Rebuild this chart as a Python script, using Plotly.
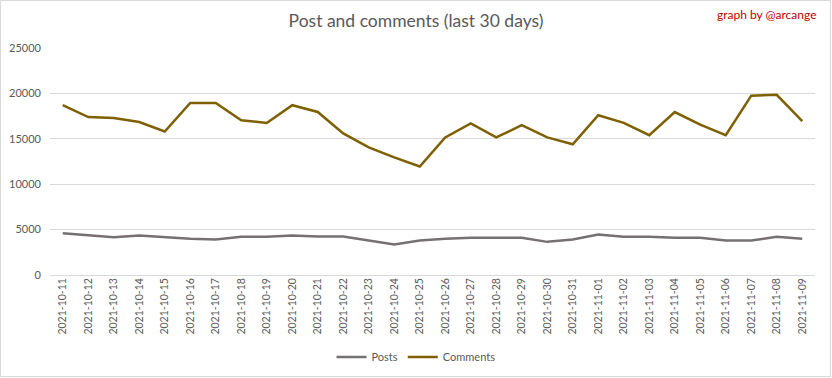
import plotly.graph_objects as go

dates = ["2021-10-11", "2021-10-12", "2021-10-13", "2021-10-14", "2021-10-15", "2021-10-16",
         "2021-10-17", "2021-10-18", "2021-10-19", "2021-10-20", "2021-10-21", "2021-10-22",
         "2021-10-23", "2021-10-24", "2021-10-25", "2021-10-26", "2021-10-27", "2021-10-28",
         "2021-10-29", "2021-10-30", "2021-10-31", "2021-11-01", "2021-11-02", "2021-11-03",
         "2021-11-04", "2021-11-05", "2021-11-06", "2021-11-07", "2021-11-08", "2021-11-09"]

posts = [4600, 4350, 4150, 4350, 4150, 4000, 3900, 4200, 4200, 4350, 4250, 4250,
         3800, 3350, 3800, 4000, 4100, 4100, 4100, 3650, 3900, 4450, 4200, 4200,
         4100, 4100, 3800, 3800, 4200, 4000]

comments = [18700, 17400, 17300, 16850, 15800, 18950, 18950, 17050, 16750, 18700, 17950, 15600,
            14050, 12950, 11950, 15150, 16700, 15150, 16500, 15150, 14400, 17600, 16750, 15400,
            17950, 16550, 15400, 19750, 19850, 16950]

y_ticks = [0, 5000, 10000, 15000, 20000, 25000]

W, H = 832, 378
ML, MR, MT, MB = 50, 17, 48, 103
PW, PH = W - ML - MR, H - MT - MB

TEXT = "#595959"
FONT = "Lato"

fig = go.Figure()
fig.add_trace(go.Scatter(x=dates, y=posts, mode="lines", name="Posts",
                         line=dict(color="#767171", width=2.5)))
fig.add_trace(go.Scatter(x=dates, y=comments, mode="lines", name="Comments",
                         line=dict(color="#7F6000", width=2.5)))

fig.update_layout(
    width=W, height=H,
    margin=dict(l=ML, r=MR, t=MT, b=MB, autoexpand=False),
    paper_bgcolor="white", plot_bgcolor="white",
    font=dict(family=FONT, color=TEXT, size=11),
    title=dict(text="Post and comments (last 30 days)", x=0.5, xanchor="center",
               y=1 - 21 / H, yanchor="middle",
               font=dict(family=FONT, size=17.5, color=TEXT)),
    showlegend=True,
    legend=dict(orientation="h", x=(416 - ML) / PW, xanchor="center",
                y=-(357 - (MT + PH)) / PH, yanchor="middle",
                font=dict(size=11, color=TEXT), itemwidth=30),
    xaxis=dict(type="category", range=[-0.5, len(dates) - 0.5], tickangle=-90,
               showgrid=False, showline=False, ticks="",
               tickfont=dict(size=10.5, color=TEXT), fixedrange=True),
    yaxis=dict(range=[0, 25000], tickvals=y_ticks, ticktext=[str(v) for v in y_ticks],
               showgrid=True, gridcolor="#D9D9D9", gridwidth=1, zeroline=True,
               zerolinecolor="#D9D9D9", zerolinewidth=1, showline=False, ticks="",
               ticklabelstandoff=8,
               tickfont=dict(size=11, color=TEXT), fixedrange=True),
    annotations=[dict(text="graph by @arcange", xref="paper", yref="paper",
                      x=(W - 13 - ML) / PW, y=1 + (MT - 15) / PH,
                      xanchor="right", yanchor="middle", showarrow=False,
                      font=dict(family=FONT, size=12, color="#C00000"))],
    shapes=[dict(type="rect", xref="paper", yref="paper",
                 x0=-(ML - 0.5) / PW, x1=1 + (MR - 1.5) / PW,
                 y0=-(MB - 1.5) / PH, y1=1 + (MT - 0.5) / PH,
                 line=dict(color="#D9D9D9", width=1), layer="below")],
)

fig.write_html("out.html", config={"displayModeBar": False},
               post_script="document.body.style.margin='0';")
